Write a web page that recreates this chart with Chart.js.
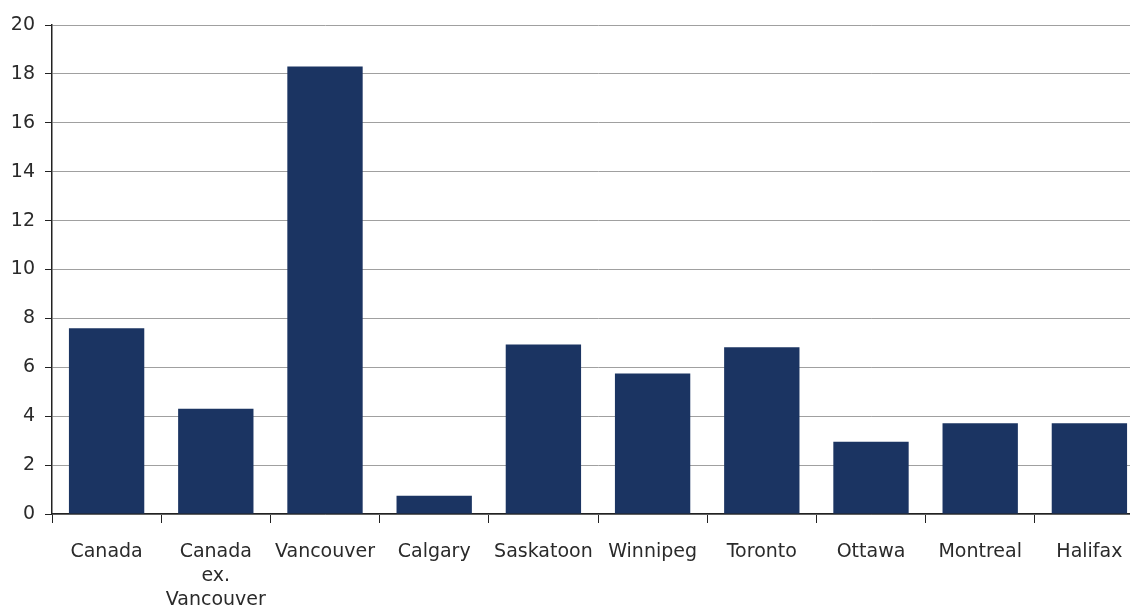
<!DOCTYPE html>
<html>
<head>
<meta charset="utf-8">
<script src="https://cdn.jsdelivr.net/npm/chart.js@4"></script>
<style>
  html, body { margin: 0; padding: 0; background: #fff; overflow: hidden; }
  #wrap { width: 1146px; height: 610px; position: relative; }
</style>
</head>
<body>
<div id="wrap"><canvas id="chart"></canvas></div>
<script>
var categories = ["Canada", ["Canada", "ex.", "Vancouver"], "Vancouver", "Calgary", "Saskatoon",
  "Winnipeg", "Toronto", "Ottawa", "Montreal", "Halifax"];
var values = [7.6, 4.3, 18.3, 0.75, 6.93, 5.75, 6.82, 2.95, 3.71, 3.71];
var yTicks = [0, 2, 4, 6, 8, 10, 12, 14, 16, 18, 20];

var ctx = document.getElementById("chart");
var myChart = new Chart(ctx, {
  type: "bar",
  data: {
    labels: categories,
    datasets: [
      {
        data: values,
        backgroundColor: "#1b3462",
        borderWidth: 0,
        categoryPercentage: 1.0,
        barPercentage: 0.69,
      },
    ],
  },
  options: {
    responsive: true,
    maintainAspectRatio: false,
    animation: false,
    layout: { padding: { top: 25, right: 2, bottom: 0, left: 0 } },
    plugins: {
      legend: { display: false },
      tooltip: { enabled: false },
    },
    scales: {
      x: {
        grid: {
          display: true,
          drawOnChartArea: false,
          drawTicks: true,
          tickLength: 9,
          tickColor: "#222",
          offset: true,
        },
        border: { display: true, color: "#222", width: 1.5 },
        ticks: {
          color: "#2a2a2a",
          font: { family: "DejaVu Sans", size: 19, lineHeight: 1.26 },
          padding: 17,
          maxRotation: 0,
          autoSkip: false,
        },
        afterFit: function (scale) { scale.height = 96; },
      },
      y: {
        min: 0,
        max: 20,
        afterBuildTicks: function (scale) {
          scale.ticks = yTicks.map(function (v) { return { value: v }; });
        },
        grid: {
          color: "#a0a0a0",
          lineWidth: 1,
          tickLength: 7,
          tickColor: "#222",
        },
        border: { display: true, color: "#222", width: 1.5 },
        ticks: { color: "#2a2a2a", font: { family: "DejaVu Sans", size: 19 }, padding: 10 },
        afterFit: function (scale) { scale.width = 52; },
      },
    },
  },
});
</script>
</body>
</html>
